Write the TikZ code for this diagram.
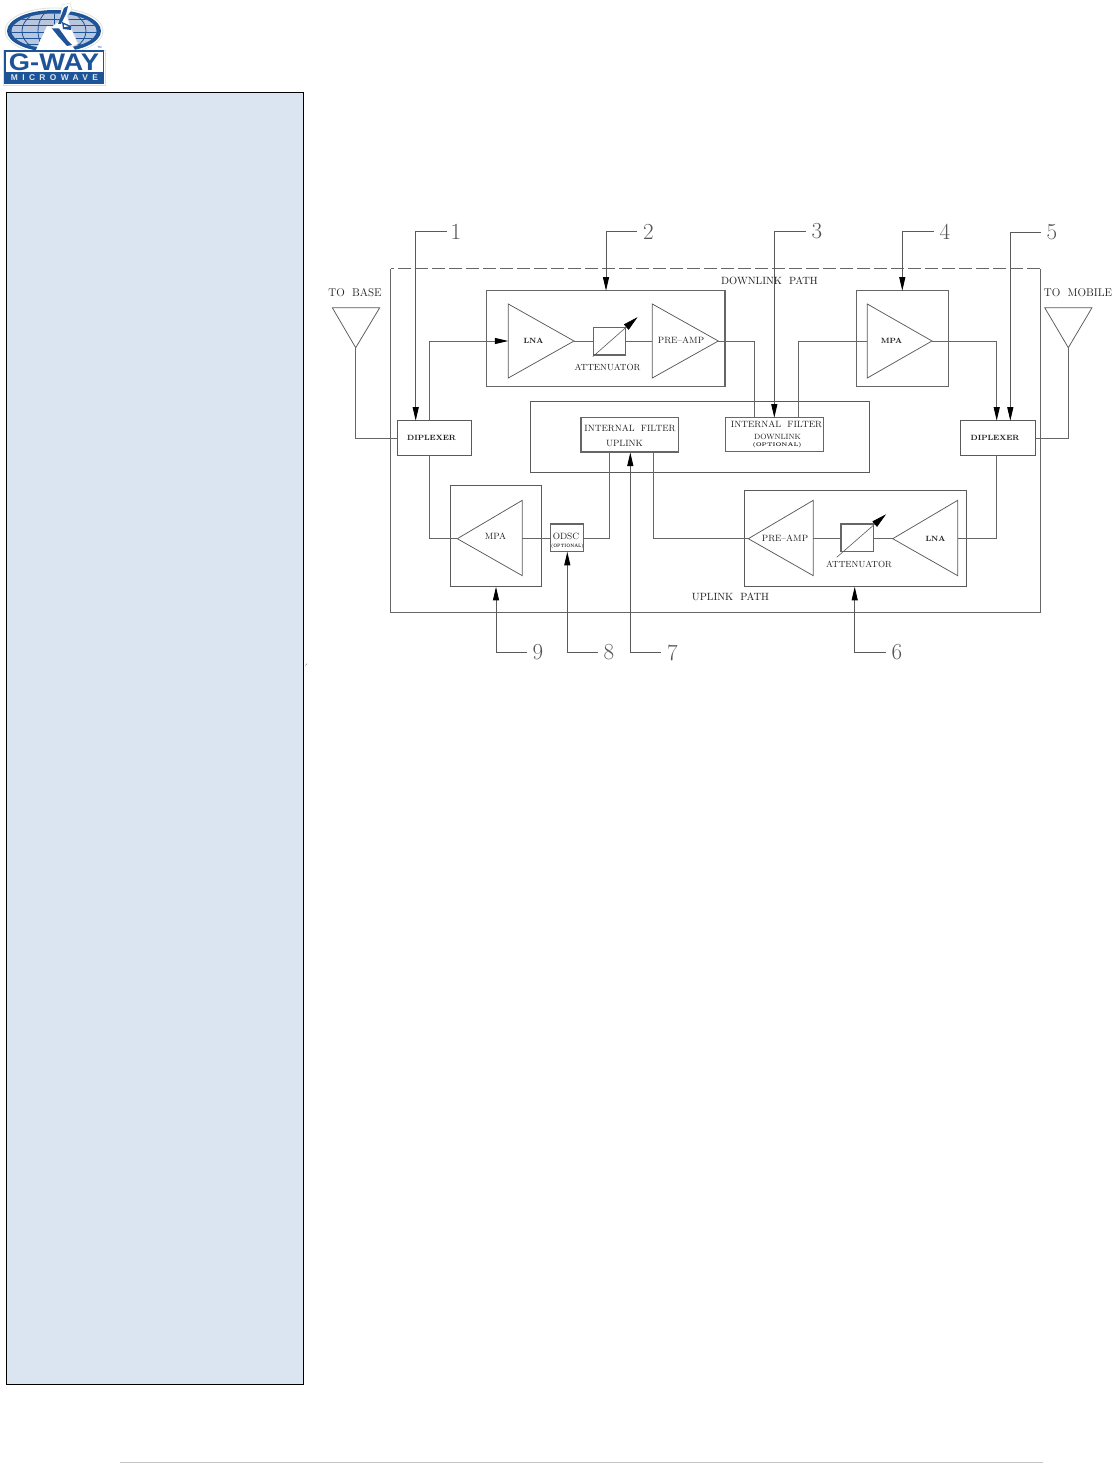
\documentclass[tikz,border=0pt]{standalone}
\usepackage{fontspec}
\newfontfamily\logofont{Liberation Sans}[Scale=1]
\newfontfamily\logospaced{Liberation Sans}[LetterSpace=52]
\usetikzlibrary{arrows.meta}
\definecolor{panelfill}{HTML}{DBE5F1}
\definecolor{wire}{HTML}{666666}
\definecolor{thinwire}{HTML}{5A5A5A}
\definecolor{labeltxt}{HTML}{1E1E1E}
\definecolor{numtxt}{HTML}{555555}
\definecolor{logoblue}{HTML}{1C5497}
\definecolor{logolight}{HTML}{B9C6E0}
\tikzset{
  wirepath/.style={draw=wire,line width=1pt},
  bx/.style={draw=wire,line width=1.05pt,rectangle,inner sep=0pt,outer sep=0pt,fill=none},
  tri/.style={draw=thinwire,line width=0.75pt,line join=miter},
  headtip/.style={-{Triangle[length=13.5pt,width=6pt,color=black]}},
  leader/.style={draw=thinwire,line width=0.9pt,headtip},
  blk/.style={font=\fontsize{9.1}{10}\selectfont,text=labeltxt,inner sep=0pt},
  blkatt/.style={font=\fontsize{8.9}{10}\selectfont,text=labeltxt,inner sep=0pt},
  blks/.style={font=\fontsize{7.6}{10}\selectfont,text=labeltxt,inner sep=0pt},
  tiny/.style={font=\fontsize{5.3}{7}\selectfont\bfseries,text=labeltxt,inner sep=0pt},
  big/.style={font=\fontsize{11.2}{12}\selectfont,text=labeltxt,inner sep=0pt},
  bigb/.style={font=\fontsize{10.5}{12}\selectfont,text=labeltxt,inner sep=0pt},
  num/.style={font=\fontsize{23}{24}\selectfont,text=numtxt,inner sep=0pt},
  gwl/.style={logoblue,line width=0.8pt}
}
\begin{document}
\begin{tikzpicture}[x=1pt,y=-1pt]
\useasboundingbox (0,0) rectangle (1114,1463);
\fill[white] (0,0) rectangle (1114,1463);
% side panel and footer
\node[draw=black,line width=1pt,fill=panelfill,minimum width=297pt,minimum height=1291pt,inner sep=0pt,outer sep=0pt] (panel) at (154.8,738.5) {};
\draw[draw=gray!45,line width=1pt] (120,1462.2) -- (1043,1462.2);
\draw[draw=gray,line width=0.4pt] (305.5,665.5) -- (307,663.5);
% logo
\begin{scope}
\fill[white,draw=gray!25,line width=0.8pt] (54,31) ellipse [x radius=49,y radius=23];
\fill[logoblue] (54,31) ellipse [x radius=47,y radius=21];
\begin{scope}
\clip (54,31) ellipse [x radius=42.5,y radius=17.5];
\fill[logolight] (10,10) rectangle (100,52);
\draw[gwl] (10,19) -- (100,19) (10,25.5) -- (100,25.5) (10,32) -- (100,32) (10,38.5) -- (100,38.5) (10,44) -- (100,44);
\draw[gwl] (54,31) ellipse [x radius=32,y radius=22];
\draw[gwl] (54,31) ellipse [x radius=16,y radius=22];
\draw[gwl] (54,5) -- (54,55);
\end{scope}
\fill[white] (47,26) -- (36,50) -- (75,50) -- (60,27) -- cycle;
\fill[white,draw=gray!25,line width=0.5pt] (62,5) -- (70,3) -- (72,9) -- (67,16) -- (71,28) -- (78,44) -- (71,47) -- (60,34) -- (51,28) -- (60,20) -- cycle;
\fill[logoblue] (64,8) -- (68,6) -- (66,14) -- (61,24) -- (58,24) -- cycle;
\fill[logoblue] (62,22) -- (71,26) -- (71,30) -- (63,29) -- cycle;
\fill[logoblue] (52,28.5) -- (59,28.5) -- (68,41) -- (72,45) -- (67,46) -- (58,36) -- cycle;
\fill[white] (64,24.5) -- (68.5,26.5) -- (64,27) -- cycle;
\fill[white,draw=gray!25,line width=0.5pt] (3,50) rectangle (105,85);
\draw[logoblue,line width=1.6pt,fill=white] (5,51) rectangle (103.5,83.5);
\fill[logoblue] (5,72.5) rectangle (103.5,83.5);
\node[inner sep=0pt,text=logoblue] (gway) at (54,62.5) {\scalebox{1.3}[1.14]{\logofont\bfseries\fontsize{21}{22}\selectfont G-WAY}};
\node[inner sep=0pt,text=white!85!logoblue] (mw) at (54.5,77.8) {\logospaced\bfseries\fontsize{8.4}{9}\selectfont MICROWAVE};
\node[inner sep=0pt,text=logoblue] (tm) at (99.5,47.5) {\logofont\fontsize{3}{3}\selectfont TM};
\end{scope}
% outer frame
\coordinate (oTL) at (390.5,268.7);
\coordinate (oTR) at (1040.3,268.7);
\coordinate (oBL) at (390.5,612);
\coordinate (oBR) at (1040.3,612);
\draw[wirepath] (oTL) -- (oBL) -- (oBR) -- (oTR);
\draw[draw=wire,line width=1.1pt,dash pattern=on 13.5pt off 3.5pt] (oTR) -- (oTL);
% boxes
\node[bx,minimum width=238.3pt,minimum height=96pt] (dlamp) at (605.85,338.7) {};
\node[bx,minimum width=92pt,minimum height=96pt] (dlmpa) at (902.3,338.7) {};
\node[bx,minimum width=338.6pt,minimum height=71pt,draw=thinwire] (filt) at (700,436.8) {};
\node[bx,minimum width=98pt,minimum height=34pt] (fdl) at (774.3,434.7) {};
\node[bx,minimum width=97.7pt,minimum height=34.3pt] (ful) at (629.85,434.85) {};
\node[bx,minimum width=74.4pt,minimum height=34.6pt,draw=thinwire] (dipL) at (434.5,438) {};
\node[bx,minimum width=75.4pt,minimum height=34.6pt,draw=thinwire] (dipR) at (998,438) {};
\node[bx,minimum width=91pt,minimum height=100.6pt,draw=thinwire] (ulmpa) at (495.8,536) {};
\node[bx,minimum width=221.6pt,minimum height=95.6pt,draw=thinwire] (ulamp) at (855.5,538.5) {};
\node[bx,minimum width=33pt,minimum height=27.3pt] (odsc) at (567.2,537.65) {};
\node[bx,minimum width=32pt,minimum height=27.3pt] (attD) at (609.3,341.35) {};
\node[bx,minimum width=32.7pt,minimum height=27.3pt] (attU) at (857.35,537.65) {};
% triangles: downlink
\coordinate (lnaDa) at (508.3,304); \coordinate (lnaDb) at (508.3,378); \coordinate (lnaDt) at (574,341); \coordinate (lnaDi) at (508.3,341);
\coordinate (preDa) at (652.3,304); \coordinate (preDb) at (652.3,378); \coordinate (preDt) at (718.3,341); \coordinate (preDi) at (652.3,341);
\coordinate (mpaDa) at (867.3,304); \coordinate (mpaDb) at (867.3,378); \coordinate (mpaDt) at (932,341); \coordinate (mpaDi) at (867.3,341);
\draw[tri] (lnaDa) -- (lnaDt) -- (lnaDb) -- cycle;
\draw[tri] (preDa) -- (preDt) -- (preDb) -- cycle;
\draw[tri] (mpaDa) -- (mpaDt) -- (mpaDb) -- cycle;
% triangles: uplink
\coordinate (mpaUa) at (522.3,500.3); \coordinate (mpaUb) at (522.3,575.7); \coordinate (mpaUt) at (457.3,538.7); \coordinate (mpaUi) at (522.3,538.7);
\coordinate (preUa) at (813.3,500.3); \coordinate (preUb) at (813.3,575.7); \coordinate (preUt) at (748.3,538.7); \coordinate (preUi) at (813.3,538.7);
\coordinate (lnaUa) at (957.7,500.3); \coordinate (lnaUb) at (957.7,575.7); \coordinate (lnaUt) at (892.7,538.7); \coordinate (lnaUi) at (957.7,538.7);
\draw[tri] (mpaUa) -- (mpaUt) -- (mpaUb) -- cycle;
\draw[tri] (preUa) -- (preUt) -- (preUb) -- cycle;
\draw[tri] (lnaUa) -- (lnaUt) -- (lnaUb) -- cycle;
% antennas
\coordinate (antLa) at (332.3,307.7); \coordinate (antLb) at (379.7,307.7); \coordinate (antLt) at (355.7,347.7);
\coordinate (antRa) at (1044.7,307.7); \coordinate (antRb) at (1092,307.7); \coordinate (antRt) at (1068.3,347.7);
\draw[tri] (antLa) -- (antLb) -- (antLt) -- cycle;
\draw[tri] (antRa) -- (antRb) -- (antRt) -- cycle;
% wires
\draw[wirepath] (antLt) |- (dipL.west);
\draw[wirepath] (antRt) |- (dipR.east);
\coordinate (jDLt) at (429.7,420.7);
\draw[wirepath,headtip] (jDLt) |- (lnaDi);
\draw[wirepath] (lnaDt) -- (attD.west |- lnaDt);
\draw[wirepath] (attD.east |- preDi) -- (preDi);
\coordinate (jFa) at (754.3,417.7);
\coordinate (jFb) at (798.3,417.7);
\draw[wirepath] (preDt) -| (jFa);
\draw[wirepath] (jFb) |- (mpaDi);
\coordinate (jDRt) at (996.7,420.7);
\draw[wirepath,headtip] (mpaDt) -| (jDRt);
\coordinate (jDLb) at (429.7,455.3);
\draw[wirepath] (jDLb) |- (mpaUt);
\draw[wirepath] (mpaUi) -- (odsc.west |- mpaUi);
\coordinate (jUa) at (609.3,452);
\coordinate (jUb) at (653.3,452);
\draw[wirepath] (odsc.east |- mpaUi) -| (jUa);
\draw[wirepath] (jUb) |- (preUt);
\draw[wirepath] (preUi) -- (attU.west |- preUi);
\draw[wirepath] (attU.east |- lnaUt) -- (lnaUt);
\coordinate (jDRb) at (996.5,455.3);
\draw[wirepath] (lnaUi) -| (jDRb);
% attenuator arrows
\coordinate (aDs) at (592.7,356.7); \coordinate (aDe) at (637.5,317.2);
\coordinate (aUs) at (836.7,557.3); \coordinate (aUe) at (886,514.3);
\draw[draw=thinwire,line width=0.6pt,-{Triangle[length=15pt,width=7pt,color=black]}] (aDs) -- (aDe);
\draw[draw=thinwire,line width=0.6pt,-{Triangle[length=15pt,width=7pt,color=black]}] (aUs) -- (aUe);
% numbered leaders
\node[num] (n1) at (456,231.5) {1};
\node[num] (n2) at (648.5,231.5) {2};
\node[num] (n3) at (817,231.5) {3};
\node[num] (n4) at (945,231.5) {4};
\node[num] (n5) at (1052,232.5) {5};
\node[num] (n6) at (897,652.5) {6};
\node[num] (n7) at (672.5,652.5) {7};
\node[num] (n8) at (609,652.5) {8};
\node[num] (n9) at (538,652.5) {9};
\coordinate (a1) at (415.7,420.7);
\coordinate (a2) at (606,290.7);
\coordinate (a3) at (774.3,417.7);
\coordinate (a4) at (902.3,290.7);
\coordinate (a5) at (1010.3,420.7);
\coordinate (a6) at (854.7,586.8);
\coordinate (a7) at (630.3,452.5);
\coordinate (a8) at (567.3,551.8);
\coordinate (a9) at (496,586.8);
\draw[leader,shorten <=4pt] (n1.west) -| (a1);
\draw[leader,shorten <=6pt] (n2.west) -| (a2);
\draw[leader,shorten <=6pt] (n3.west) -| (a3);
\draw[leader,shorten <=6pt] (n4.west) -| (a4);
\draw[leader,shorten <=6pt] (n5.west) -| (a5);
\draw[leader,shorten <=6pt] (n6.west) -| (a6);
\draw[leader,shorten <=6pt] (n7.west) -| (a7);
\draw[leader,shorten <=6pt] (n8.west) -| (a8);
\draw[leader,shorten <=6pt] (n9.west) -| (a9);
% labels
\node[big] (tb) at (355,293) {TO\ \ BASE};
\node[big] (tm2) at (1078,293) {TO\ \ MOBILE};
\node[bigb] (dlp) at (769.5,281) {DOWNLINK\ \ PATH};
\node[bigb] (ulp) at (730.5,597) {UPLINK\ \ PATH};
\node[blks] (l1) at (533.5,341) {\bfseries LNA};
\node[blk] (l2) at (681,340.5) {PRE--AMP};
\node[blkatt] (l3) at (607.5,367) {ATTENUATOR};
\node[blks] (l4) at (891.5,341) {\bfseries MPA};
\node[blks] (l5) at (431.5,437.5) {\bfseries DIPLEXER};
\node[blks] (l6) at (995,437.5) {\bfseries DIPLEXER};
\node[blk] (l7) at (630,428) {INTERNAL\ \ FILTER};
\node[blk] (l8) at (624.5,443) {UPLINK};
\node[blk] (l9) at (776.5,424.5) {INTERNAL\ \ FILTER};
\node[blks] (l10) at (777.5,437) {DOWNLINK};
\node[tiny] (l11) at (777,445.5) {(OPTIONAL)};
\node[blk] (l12) at (495.5,536.5) {MPA};
\node[blk] (l13) at (566,536.5) {ODSC};
\node[tiny] (l14) at (567.3,546.5) {\scalebox{0.66}[0.9]{(OPTIONAL)}};
\node[blk] (l15) at (785,538.5) {PRE--AMP};
\node[blkatt] (l16) at (859,564) {ATTENUATOR};
\node[blks] (l17) at (935.5,538.5) {\bfseries LNA};
\end{tikzpicture}
\end{document}
